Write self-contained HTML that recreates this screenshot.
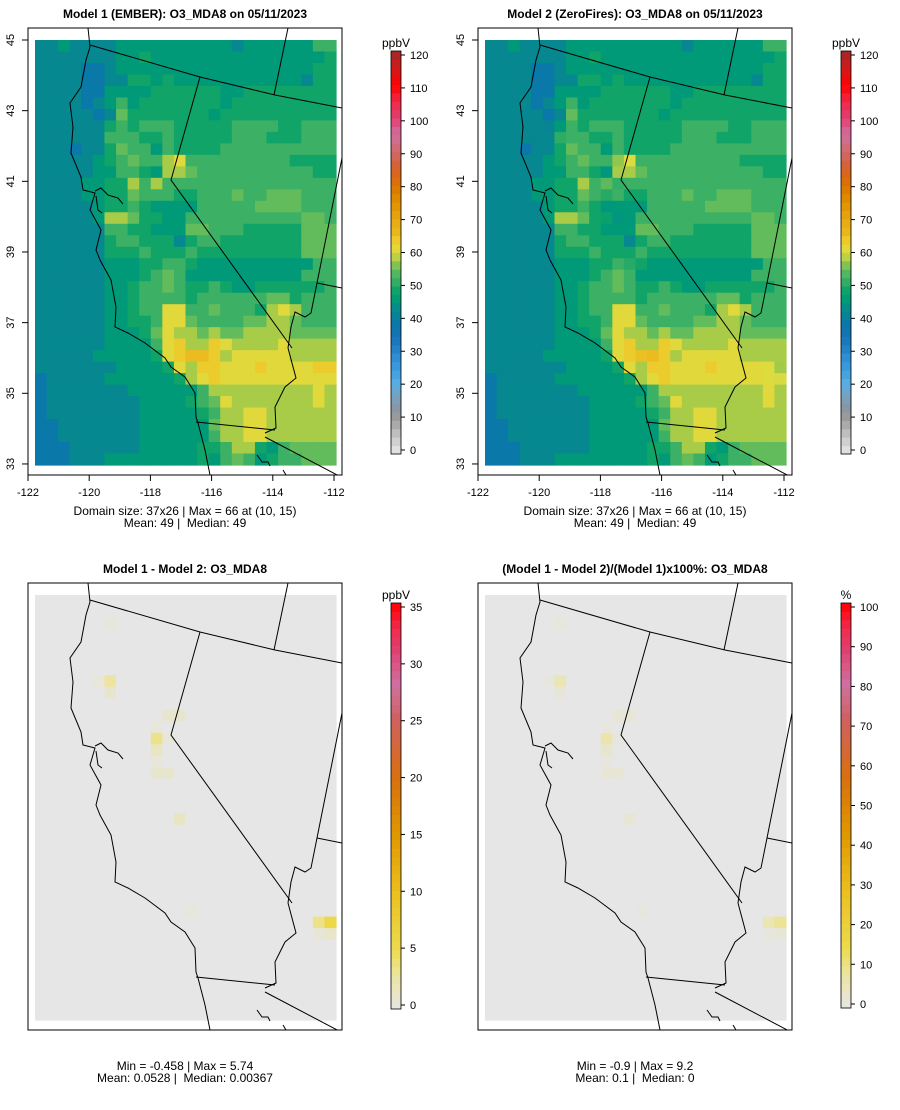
<!DOCTYPE html>
<html><head><meta charset="utf-8"><style>
html,body{margin:0;padding:0;background:#fff;}
svg{display:block;font-family:"Liberation Sans",sans-serif;}
</style></head><body>
<svg id="root" width="900" height="1110" viewBox="0 0 900 1110">
<g id="panels"></g>
</svg>
<script>
// ---- data (37 rows x 26 cols), letter codes of O3 MDA8 level ----
const rowCodes = [
"ccdccccddddddddddcddddddff","cccccccddedddddddddddddddee","ccccbbcddddddddddddddddde",
"ccccbbcceededddddddddddceee","ccccbbddddeeeeeeddeeeeeeee","ccccbcdfdeeeeeeedeeeeeeeee",
"cccccbcgeeeeeeedeeeeeeeeee","ccccccefefffeeeeeffffeefff","ccccccfffeefeeeeefffeeefff",
"cccbccegffdfeeeeffffffffff","cccccdefgffhifffffffffeeee","cccccddffedhhgffffffffffee",
"ccccddeehfhfffffffffffffffe","ccccddeegfffeefffgffgggfff","cccccdeefeddddfffffggggfff",
"cccccdhhgeeddffffffffffggf","ccccccffeedddggfffeeeeeggg","cccccceffeeeceffeeeeeeeggg",
"cccccceeefeeefeeeeeeeeeggg","ccccccdddeeffeddddddddddfff","ccccccdddefgfddddddddddfff",
"ccccccddeffgfeefeddeeeeeef","ccccccddeffffeffffffggefff","ccccccddeffiiffgfffehihfff",
"ccccccddeefiigffffgghhgfff","ccccccdddegihhghgghhhhgggg","ccccccddddfijhhjihhhhihhhh",
"cccccdddddeijkkjhiiiiihhhh","cccccccddddeihjjiiijiiiijj","bcccccddddddehijiiiiiiiiii",
"bcccccccddddddfhhhhhhhhhih","bccccccccddddefgihhhhhhhih","bccccccccdddddefhhiihhhhhh",
"bbcccccccddddddghhiihhhhhh","bbcccccccddddddfhhiihhhhhh","bbbccccccdddddeefhhedfgggg",
"bbbcccddddddddedfgfdeffggg"];
const codeValues = {b:39,c:42.5,d:46,e:49,f:52,g:55,h:58,i:61,j:63.5,k:65.5};
// difference cells (Model1 - Model2), ppbV
const diffRows = [2,7,7,8,10,10,11,12,12,13,14,15,15,19,27,28,28,29,29];
const diffCols = [6,5,6,6,11,12,10,10,11,10,10,10,11,12,13,24,25,24,25];
const diffVals = [0.5,0.6,3,1,1,1,0.6,3.5,0.6,1.5,0.6,1,1,1.5,0.5,3.5,5.7,0.7,1.2];
// percent difference cells
const pctVals  = [1,1,6,2,2,2,1,7,1,3,1,2,2,2,1,6,9.2,1,2];
const cbTicksTop = [0,10,20,30,40,50,60,70,80,90,100,110,120];
const cbTicksDiff = [0,5,10,15,20,25,30,35];
const cbTicksPct = [0,10,20,30,40,50,60,70,80,90,100];
const lonTicks = [-122,-120,-118,-116,-114,-112];
const latTicks = [33,35,37,39,41,43,45];

const NS="http://www.w3.org/2000/svg";
function el(tag,attrs,parent){const e=document.createElementNS(NS,tag);for(const k in attrs)e.setAttribute(k,attrs[k]);if(parent)parent.appendChild(e);return e;}
function hex(h){return [parseInt(h.substr(1,2),16),parseInt(h.substr(3,2),16),parseInt(h.substr(5,2),16)];}
function makePal(stops){return function(v){if(v<=stops[0][0])return stops[0][1];for(let i=1;i<stops.length;i++){if(v<=stops[i][0]){const a=stops[i-1],b=stops[i];const t=(v-a[0])/(b[0]-a[0]);const A=hex(a[1]),B=hex(b[1]);return "rgb("+A.map((x,j)=>Math.round(x+(B[j]-x)*t)).join(",")+")";}}return stops[stops.length-1][1];};}
const palTop=makePal([[0,"#e8e8e8"],[5,"#c8c8c8"],[10,"#a0a0a0"],[13,"#8c949c"],[17,"#7aa0c0"],[21,"#5aaee0"],[25,"#3c9ee0"],[30,"#2a88d0"],[35,"#1572b5"],[39,"#0a78a8"],[43,"#068a8c"],[46,"#009a78"],[49,"#10a468"],[52,"#3cb064"],[55,"#62bc5c"],[58,"#a8cc48"],[60,"#dcdc40"],[63,"#ecd030"],[66,"#eab81c"],[70,"#e8a810"],[75,"#e09000"],[80,"#dc7400"],[85,"#d86028"],[90,"#d06868"],[95,"#d070a0"],[100,"#e04070"],[105,"#f02848"],[110,"#ff0000"],[115,"#d01a1a"],[120,"#a02828"]]);
const diffStops=[[0,"#e6e6e6"],[3,"#ece4a0"],[5,"#ecdc50"],[10,"#ecc020"],[15,"#e09800"],[20,"#d87010"],[25,"#d06060"],[28,"#d070a0"],[31,"#e04070"],[33,"#f02848"],[35,"#ff0000"]];
const palDiff=makePal(diffStops);
const palPct=makePal(diffStops.map(s=>[s[0]*100/35,s[1]]));

const NR=37,NC=26,MX=35,MY=40,CW=301/26,CH=425/37;
function grid(){return rowCodes.map(r=>{let s=r.slice(0,NC);while(s.length<NC)s+=s[s.length-1];return s.split("").map(c=>codeValues[c]);});}
const m1=grid();
const m2=m1.map(r=>r.slice());
diffRows.forEach((r,i)=>{m2[r][diffCols[i]]-=diffVals[i];});
const dgrid=m1.map(r=>r.map(()=>0));diffRows.forEach((r,i)=>dgrid[r][diffCols[i]]=diffVals[i]);
const pgrid=m1.map(r=>r.map(()=>0));diffRows.forEach((r,i)=>pgrid[r][diffCols[i]]=pctVals[i]);

// border polylines (pixel geometry of the base map, not data)
const borders=[
"88,28 90,47 86,60 81,87 70,103 73,127 71,153 81,177 83,190 95,193 90,210 101,230 96,250 100,260 111,280 116,307 115,327 128,333 145,343 165,358 171,367 185,377 195,393 196,417 198,423 205,450 210,475",
"95,191 101,188 108,195 118,198 123,204",
"96,196 98,210 102,213",
"90,45 200,77 275,95 342,108",
"288,28 274,95",
"200,77 171,180 292,348",
"342,158 317,283 311,313 305,317 295,312 291,327 288,348",
"317,283 342,288",
"288,348 296,378 285,387 275,407 276,428 265,433",
"196,422 275,430",
"265,437 341,477",
"257,455 262,462 268,462 270,466",
"283,470 286,475"
];

const root=document.getElementById("panels");
function panel(name,ox,oy,data,pal,title,axes,cb,stats){
  const g=el("g",{},root);
  
  
  const t=el("text",{x:185+ox,y:oy+18,"text-anchor":"middle","font-size":"12","font-weight":"bold",fill:"#000"},g);
  t.textContent=title;
  
  
  const cid="clip"+name;
  const cp=el("clipPath",{id:cid},g);el("rect",{x:28+ox,y:28+oy,width:314,height:447},cp);
  const hm=el("g",{"clip-path":"url(#"+cid+")"},g);
  
  
  for(let r=0;r<NR;r++)for(let c=0;c<NC;c++){
    const v=data[r][c];
    const rc=el("rect",{x:(MX+ox+c*CW).toFixed(2),y:(MY+oy+r*CH).toFixed(2),width:(CW+0.6).toFixed(2),height:(CH+0.6).toFixed(2),fill:pal(v)},hm);
    
    
  }
  const bclip=el("g",{"clip-path":"url(#"+cid+")"},g);
  const bg=el("g",{fill:"none",stroke:"#000","stroke-width":"1",transform:"translate("+ox+","+oy+")"},bclip);
  
  
  borders.forEach(p=>el("polyline",{points:p},bg));
  const box=el("rect",{x:28+ox,y:28+oy,width:314,height:447,fill:"none",stroke:"#000","stroke-width":"1"},g);
  
  
  if(axes){
    const lonX=l=>28+ox+(l+122)*30.6, latY=a=>40+oy+(45-a)*35.33;
    lonTicks.forEach(l=>{const x=lonX(l);el("line",{x1:x,y1:475+oy,x2:x,y2:481+oy,stroke:"#000"},g);
      const tx=el("text",{x:x,y:496+oy,"text-anchor":"middle","font-size":"11"},g);tx.textContent=l;
      
      });
    latTicks.forEach(a=>{const y=latY(a);el("line",{x1:22+ox,y1:y,x2:28+ox,y2:y,stroke:"#000"},g);
      const ty=el("text",{x:0,y:0,"text-anchor":"middle","font-size":"11",transform:"translate("+(14+ox)+","+y+") rotate(-90)"},g);ty.textContent=a;
      
      });
  }
  const cg=el("g",{},g);
  
  
  const cx=391+ox,y0=cb.y0+oy,n=48;
  const vmax=cb.ticks[cb.ticks.length-1];
  const span=cb.y0-cb.y1;
  const barTop=cb.y1-4+oy, barBot=cb.y0+4+oy;
  for(let i=0;i<n;i++){const v=(i+0.5)/n*vmax;const ya=barBot-(i+1)*(barBot-barTop)/n;
    el("rect",{x:cx,y:ya,width:10,height:(barBot-barTop)/n+0.5,fill:cb.pal(v)},cg);}
  el("rect",{x:cx,y:barTop,width:10,height:barBot-barTop,fill:"none",stroke:"#000","stroke-width":"0.8"},cg);
  cb.ticks.forEach(v=>{const y=y0-(v/vmax)*span;el("line",{x1:cx+10,y1:y,x2:cx+14,y2:y,stroke:"#000"},cg);
    const tt=el("text",{x:cx+19,y:y+4,"font-size":"11"},cg);tt.textContent=v;
    
    });
  const u=el("text",{x:cx+5,y:barTop-4,"text-anchor":"middle","font-size":"12"},cg);u.textContent=cb.unit;
  
  
  stats.forEach((s,i)=>{const st=el("text",{x:185+ox,y:stats.y+oy+i*12,"text-anchor":"middle","font-size":"12","xml:space":"preserve"},g);st.textContent=s;st.setAttribute("style","white-space:pre");
    
    });
}
const s1=["Domain size: 37x26 | Max = 66 at (10, 15)","Mean: 49 |  Median: 49"];s1.y=515;
const s2=s1.slice();s2.y=515;
const s3=["Min = -0.458 | Max = 5.74","Mean: 0.0528 |  Median: 0.00367"];s3.y=515;
const s4=["Min = -0.9 | Max = 9.2","Mean: 0.1 |  Median: 0"];s4.y=515;
panel("model1-map",0,0,m1,palTop,"Model 1 (EMBER): O3_MDA8 on 05/11/2023",true,{y0:450,y1:55,ticks:cbTicksTop,pal:palTop,unit:"ppbV"},s1);
panel("model2-map",450,0,m2,palTop,"Model 2 (ZeroFires): O3_MDA8 on 05/11/2023",true,{y0:450,y1:55,ticks:cbTicksTop,pal:palTop,unit:"ppbV"},s2);
panel("diff-map",0,555,dgrid,palDiff,"Model 1 - Model 2: O3_MDA8",false,{y0:450,y1:52,ticks:cbTicksDiff,pal:palDiff,unit:"ppbV"},s3);
panel("pct-diff-map",450,555,pgrid,palPct,"(Model 1 - Model 2)/(Model 1)x100%: O3_MDA8",false,{y0:449,y1:52,ticks:cbTicksPct,pal:palPct,unit:"%"},s4);
</script>
</body></html>
